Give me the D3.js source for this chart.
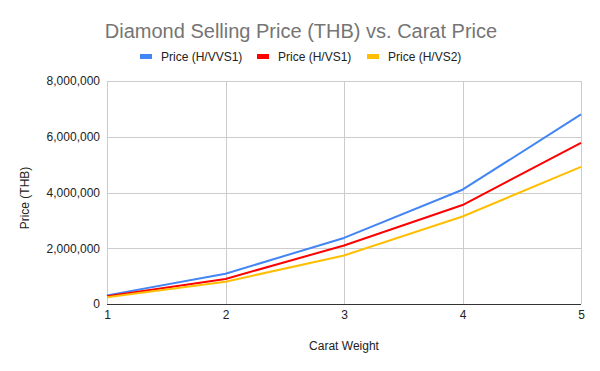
<!DOCTYPE html>
<html>
<head>
<meta charset="utf-8">
<script src="https://cdn.jsdelivr.net/npm/d3@7"></script>
<style>
  html, body { margin: 0; padding: 0; background: #fff; }
  svg { display: block; font-family: "Liberation Sans", Arial, sans-serif; }
</style>
</head>
<body>
<svg id="chart" width="600" height="371"></svg>
<script>
const carats = [1, 2, 3, 4, 5];
const xTicks = [1, 2, 3, 4, 5];
const yTicks = [0, 2000000, 4000000, 6000000, 8000000];
const seriesNames = ["Price (H/VVS1)", "Price (H/VS1)", "Price (H/VS2)"];
const seriesColors = ["#4285F4", "#FF0000", "#FFBF00"];
const priceVVS1 = [310000, 1086000, 2370000, 4100000, 6800000];
const priceVS1 = [280000, 900000, 2100000, 3550000, 5780000];
const priceVS2 = [240000, 800000, 1740000, 3140000, 4920000];
const seriesValues = [priceVVS1, priceVS1, priceVS2];

const svg = d3.select("#chart");
const margin = { left: 107, right: 19, top: 81, bottom: 67 };
const W = 600, H = 371;

const x = d3.scaleLinear().domain([1, 5]).range([margin.left, W - margin.right]);
const y = d3.scaleLinear().domain([0, 8000000]).range([H - margin.bottom, margin.top]);

svg.append("rect").attr("width", W).attr("height", H).attr("fill", "#fff");

// horizontal grid
svg.append("g")
  .selectAll("line").data(yTicks.filter(d => d > 0)).join("line")
  .attr("x1", x(1)).attr("x2", x(5))
  .attr("y1", d => Math.round(y(d)) + 0.5).attr("y2", d => Math.round(y(d)) + 0.5)
  .attr("stroke", "#cccccc").attr("stroke-width", 1);

// vertical grid
svg.append("g")
  .selectAll("line").data(xTicks).join("line")
  .attr("x1", d => Math.round(x(d)) + 0.5).attr("x2", d => Math.round(x(d)) + 0.5)
  .attr("y1", y(8000000)).attr("y2", y(0))
  .attr("stroke", "#cccccc").attr("stroke-width", 1);

// y axis labels
const yAxis = d3.axisLeft(y).tickValues(yTicks).tickSize(0).tickPadding(7)
  .tickFormat(d3.format(","));
const gy = svg.append("g").attr("transform", `translate(${margin.left},0)`).call(yAxis);
gy.select(".domain").remove();
gy.selectAll("text").attr("font-size", 12).attr("fill", "#222").attr("font-family", "Liberation Sans, Arial, sans-serif");

// x axis labels
const xAxis = d3.axisBottom(x).tickValues(xTicks).tickSize(0).tickPadding(6)
  .tickFormat(d3.format("d"));
const gx = svg.append("g").attr("transform", `translate(0,${y(0)})`).call(xAxis);
gx.select(".domain").remove();
gx.selectAll("text").attr("font-size", 12).attr("fill", "#222").attr("font-family", "Liberation Sans, Arial, sans-serif");

// lines
const line = d3.line().x((d, i) => x(carats[i])).y(d => y(d));
svg.append("g").selectAll("path").data(seriesValues).join("path")
  .attr("d", d => line(d))
  .attr("fill", "none")
  .attr("stroke", (d, i) => seriesColors[i])
  .attr("stroke-width", 2)
  .attr("stroke-linejoin", "round");

// baseline
svg.append("line")
  .attr("x1", x(1)).attr("x2", x(5))
  .attr("y1", Math.round(y(0)) + 0.5).attr("y2", Math.round(y(0)) + 0.5)
  .attr("stroke", "#333333").attr("stroke-width", 1);

// title
svg.append("text").attr("x", 301).attr("y", 38).attr("text-anchor", "middle")
  .attr("font-size", 20).attr("fill", "#757575")
  .text("Diamond Selling Price (THB) vs. Carat Price");

// legend
const legendX = [140, 257, 367];
const lg = svg.append("g");
seriesNames.forEach((name, i) => {
  lg.append("rect").attr("x", legendX[i]).attr("y", 54).attr("width", 12).attr("height", 5)
    .attr("fill", seriesColors[i]);
  lg.append("text").attr("x", legendX[i] + 21).attr("y", 61)
    .attr("font-size", 12).attr("fill", "#222").text(name);
});

// axis titles
svg.append("text").attr("x", x(3)).attr("y", 350).attr("text-anchor", "middle")
  .attr("font-size", 12).attr("fill", "#222").text("Carat Weight");
svg.append("text").attr("transform", "translate(29,198) rotate(-90)")
  .attr("text-anchor", "middle").attr("font-size", 12).attr("fill", "#222").text("Price (THB)");
</script>
</body>
</html>
